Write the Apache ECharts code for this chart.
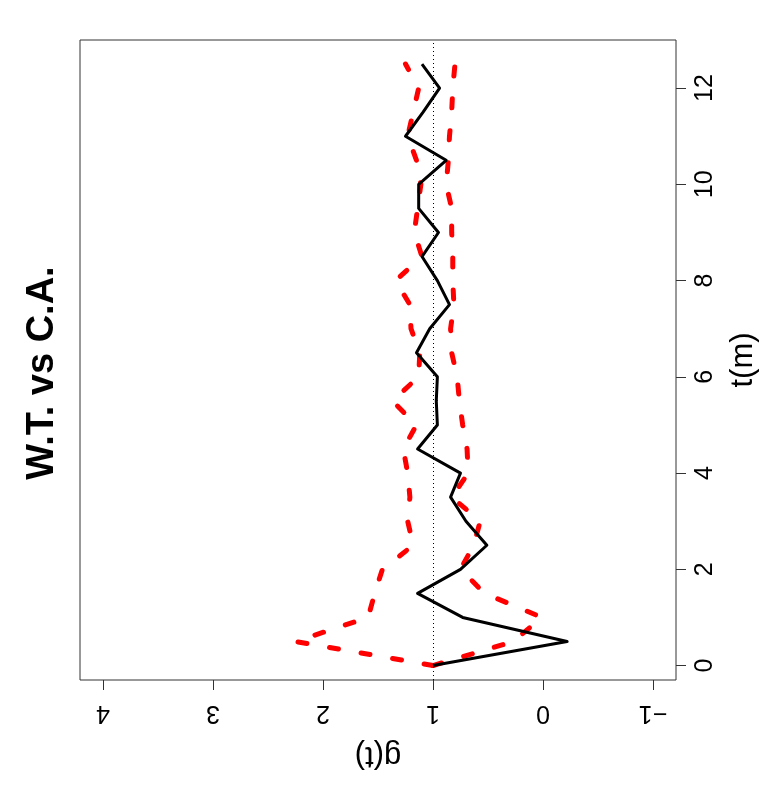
<!DOCTYPE html>
<html>
<head>
<meta charset="utf-8">
<script src="https://cdn.jsdelivr.net/npm/echarts@6/dist/echarts.min.js"></script>
<style>
  html, body { margin: 0; padding: 0; background: #fff; }
  #chart { width: 777px; height: 800px; }
</style>
</head>
<body>
<div id="chart"></div>
<script>
// t(m) steps
var tValues = [0, 0.5, 1, 1.5, 2, 2.5, 3, 3.5, 4, 4.5, 5, 5.5, 6, 6.5,
               7, 7.5, 8, 8.5, 9, 9.5, 10, 10.5, 11, 11.5, 12, 12.5];
// observed g(t)
var gObserved = [1.0, -0.22, 0.73, 1.14, 0.75, 0.51, 0.70, 0.84, 0.75, 1.14, 0.96, 0.97, 0.96, 1.15,
                 1.03, 0.85, 0.96, 1.10, 0.95, 1.13, 1.13, 0.88, 1.25, 1.09, 0.94, 1.10];
// envelope upper / lower
var gUpper = [1.0, 2.25, 1.59, 1.53, 1.46, 1.18, 1.23, 1.21, 1.23, 1.27, 1.15, 1.37, 1.13, 1.12,
              1.20, 1.21, 1.34, 1.10, 1.17, 1.14, 1.11, 1.15, 1.23, 1.18, 1.13, 1.25];
var gLower = [1.0, 0.27, 0.01, 0.53, 0.75, 0.63, 0.57, 0.83, 0.68, 0.69, 0.73, 0.76, 0.78, 0.83,
              0.84, 0.81, 0.82, 0.82, 0.83, 0.83, 0.88, 0.86, 0.85, 0.83, 0.82, 0.80];
var gTicks = [-1, 0, 1, 2, 3, 4];
var tTicks = [0, 2, 4, 6, 8, 10, 12];

function pairs(g) {
    return g.map(function (v, i) { return [v, tValues[i]]; });
}

var chart = echarts.init(document.getElementById('chart'));
var font = 'Liberation Sans, Arial, sans-serif';
var dashed = { color: '#ff0000', width: 5, type: [9, 23], cap: 'round', join: 'round' };

chart.setOption({
    animation: false,
    backgroundColor: '#fff',
    graphic: [{
        type: 'text',
        x: 43,
        y: 373,
        rotation: Math.PI / 2,
        style: {
            text: 'W.T. vs C.A.',
            font: 'bold 38px ' + font,
            fill: '#000',
            align: 'center',
            verticalAlign: 'middle'
        }
    }],
    grid: {
        left: 80, right: 101, top: 40, bottom: 120,
        show: true, borderColor: '#333', borderWidth: 1
    },
    xAxis: {
        type: 'value',
        inverse: true,
        position: 'bottom',
        min: -1.21,
        max: 4.21,
        name: 'g(t)',
        nameLocation: 'middle',
        nameRotate: 180,
        nameGap: 60,
        nameTextStyle: { fontSize: 31, fontFamily: font, color: '#000' },
        axisLine: { show: false, onZero: false },
        splitLine: { show: false },
        axisTick: { show: true, customValues: gTicks, length: 10, lineStyle: { color: '#333' } },
        axisLabel: {
            customValues: gTicks, rotate: 180, fontSize: 25, fontFamily: font, color: '#000', margin: 20,
            formatter: function (v) { return String(v).replace('-', '\u2212'); }
        }
    },
    yAxis: {
        type: 'value',
        position: 'right',
        min: -0.3,
        max: 13.0,
        name: 't(m)',
        nameLocation: 'middle',
        nameRotate: 90,
        nameGap: 52,
        nameTextStyle: { fontSize: 31, fontFamily: font, color: '#000' },
        axisLine: { show: false, onZero: false },
        splitLine: { show: false },
        axisTick: { show: true, customValues: tTicks, length: 10, lineStyle: { color: '#333' } },
        axisLabel: { customValues: tTicks, rotate: 90, fontSize: 25, fontFamily: font, color: '#000', margin: 17 }
    },
    series: [
        {
            name: 'upper',
            type: 'line',
            data: pairs(gUpper),
            showSymbol: false,
            lineStyle: dashed,
            markLine: {
                silent: true,
                symbol: 'none',
                label: { show: false },
                lineStyle: { color: '#000', width: 1, type: [1, 3] },
                data: [{ xAxis: 1 }]
            }
        },
        {
            name: 'lower',
            type: 'line',
            data: pairs(gLower),
            showSymbol: false,
            lineStyle: dashed
        },
        {
            name: 'observed',
            type: 'line',
            data: pairs(gObserved),
            showSymbol: false,
            lineStyle: { color: '#000', width: 3, join: 'round' }
        }
    ]
});
</script>
</body>
</html>
